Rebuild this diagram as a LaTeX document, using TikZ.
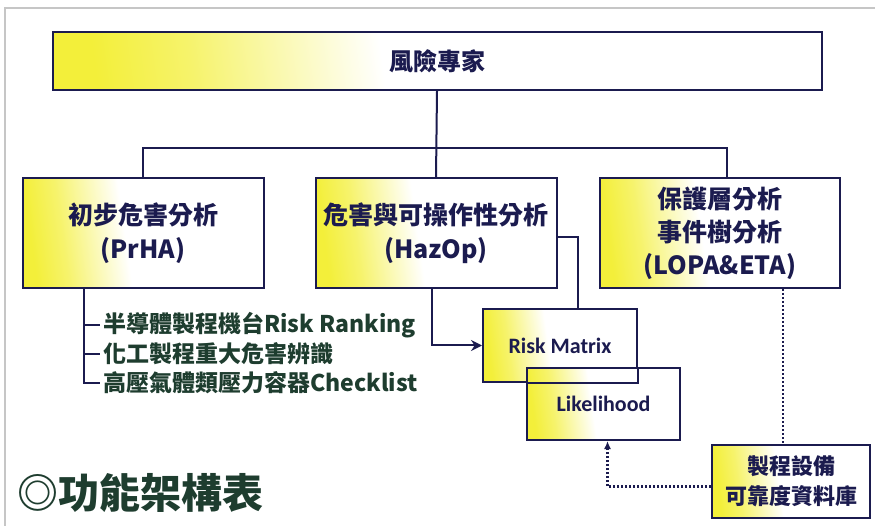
\documentclass[tikz,border=0pt]{standalone}
\usepackage{fontspec}
\setmainfont{Noto Sans CJK TC}
\newfontfamily\calibrifont{Carlito}
\usetikzlibrary{arrows.meta}
\definecolor{boxnavy}{HTML}{1B1B4F}
\definecolor{itemgreen}{HTML}{1E3D2F}
\definecolor{fadeyellow}{HTML}{F3EF3A}
\pgfdeclarehorizontalshading{boxfade}{100bp}{color(0bp)=(fadeyellow); color(25bp)=(fadeyellow); color(32bp)=(fadeyellow!75); color(46bp)=(white); color(100bp)=(white)}
\tikzset{
    yellow-box/.style = {draw=boxnavy, line width=2pt, rectangle, shading=boxfade, shading angle=8, text=boxnavy, align=center, inner sep=2pt},
    main-line/.style = {draw=boxnavy, line width=2pt},
    dot-line/.style = {draw=boxnavy, line width=2.5pt, dash pattern=on 2pt off 2pt},
    box-text/.style = {font=\bfseries\fontsize{25}{34}\selectfont},
    item-text/.style = {text=itemgreen, font=\bfseries\fontsize{23}{26}\selectfont, anchor=west, inner sep=3pt},
}

\begin{document}
\begin{tikzpicture}[x=1pt, y=-1pt]
\useasboundingbox (0,0) rectangle (875,526);
\draw[gray!45, line width=1.2pt] (875,8) -- (5,8) -- (5,526);

\node [yellow-box, minimum width=769, minimum height=58, font=\bfseries\fontsize{24}{28}\selectfont] (expert) at (437,61) {風險專家};
\node [yellow-box, box-text, minimum width=241, minimum height=110] (prha) at (143,233) {初步危害分析\\(PrHA)};
\node [yellow-box, box-text, minimum width=241, minimum height=110] (hazop) at (436,233) {危害與可操作性分析\\(HazOp)};
\node [yellow-box, minimum width=240, minimum height=110, font=\bfseries\fontsize{25}{33}\selectfont] (lopa) at (720,233) {保護層分析\\事件樹分析\\(LOPA\&ETA)};

\coordinate (bus) at (436,148);
\draw[main-line] (expert.south) -- (hazop.north);
\draw[main-line] (prha.north) -- (prha.north |- bus) -- ([xshift=7pt]lopa.north |- bus) -- ([xshift=7pt]lopa.north);

\node [item-text] (item1) at (100,325) {半導體製程機台Risk Ranking};
\node [item-text] (item2) at (100,354) {化工製程重大危害辨識};
\node [item-text] (item3) at (100,383) {高壓氣體類壓力容器Checklist};
\coordinate (brk) at ([xshift=-59pt]prha.south);
\draw[main-line] (brk) |- (item3.west);
\draw[main-line] (brk |- item1.west) -- (item1.west);
\draw[main-line] (brk |- item2.west) -- (item2.west);

\node [yellow-box, minimum width=154, minimum height=73, font=\calibrifont\bfseries\fontsize{22}{24}\selectfont] (riskmat) at (560,345.5) {Risk Matrix};
\node [yellow-box, minimum width=153, minimum height=72, font=\calibrifont\bfseries\fontsize{22}{24}\selectfont] (likely) at (603.5,404) {Likelihood};
\draw[main-line] (likely.north west |- riskmat.south) -- (riskmat.south east) -- (riskmat.east |- likely.north);
\node [yellow-box, minimum width=158, minimum height=73, font=\bfseries\fontsize{22}{30}\selectfont] (db) at (791,481.5) {製程設備\\可靠度資料庫};

\draw[main-line] ([yshift=-4pt]hazop.east) -| ([xshift=18pt]riskmat.north);
\draw[main-line, -{Stealth[length=11pt, width=11pt]}] ([xshift=-4pt]hazop.south) |- (riskmat.west);
\draw[dot-line] ([xshift=63pt]lopa.south) -- ([xshift=63pt]lopa.south |- db.north);
\draw[dot-line, -{Latex[length=8pt, width=7pt]}] ([yshift=-5pt]db.west) -| ([xshift=4pt]likely.south);

\node [text=itemgreen, font=\bfseries\fontsize{41}{44}\selectfont, anchor=west, inner sep=0pt] (title) at (17,493) {◎功能架構表};
\end{tikzpicture}
\end{document}
